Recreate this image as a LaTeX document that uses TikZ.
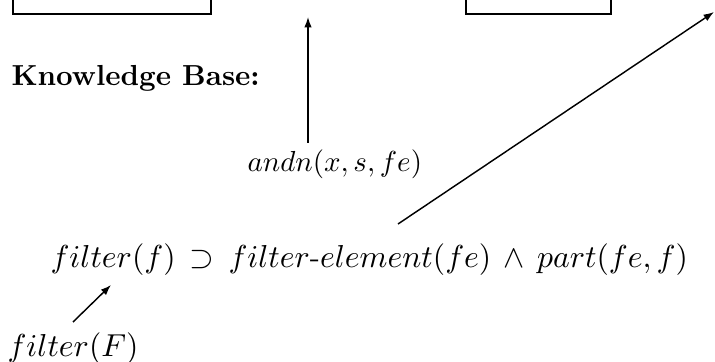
\documentclass[tikz,border=0pt]{standalone}
\usetikzlibrary{arrows.meta}
\begin{document}
\begin{tikzpicture}[x=0.345pt,y=-0.345pt,
  boxline/.style={line width=0.7pt},
  arr/.style={line width=0.5pt,-{Latex[length=3.6pt,width=2.6pt]}},
  txt/.style={inner sep=0pt,anchor=base west},
  big/.style={font=\fontsize{10.5}{12.5}\selectfont}]
\useasboundingbox (0,0) rectangle (715,362);
\clip (0,0) rectangle (715,362);
% top boxes (cut off by the frame)
\draw[boxline] (13,-40) -- (13,14) -- (211,14) -- (211,-40);
\draw[boxline] (466,-40) -- (466,14) -- (611,14) -- (611,-40);
\node[txt,font=\bfseries] (kb) at (11,86) {Knowledge Base:};
\node[txt] (andn) at (247,172) {$andn(x,s,fe)$};
\node[txt,big] (rule) at (50,268) {$filter(f)\,\supset\, filter\hbox{-}element(fe)\,\wedge\, part(fe,f)$};
\node[txt,big] (fF) at (7,357) {$filter(F)$};
\coordinate (upA) at (308,143);
\coordinate (upB) at (308,17);
\coordinate (dgA) at (398,224);
\coordinate (dgB) at (714,12);
\coordinate (smA) at (73,322);
\coordinate (smB) at (111,285);
\draw[arr] (upA) -- (upB);
\draw[arr] (dgA) -- (dgB);
\draw[arr] (smA) -- (smB);
\end{tikzpicture}
\end{document}
